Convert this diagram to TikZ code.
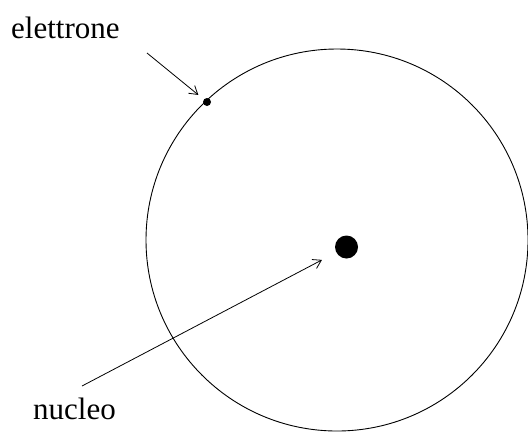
\documentclass[tikz,border=0pt]{standalone}
\usepackage{fontspec}
\setmainfont{Liberation Serif}
\usetikzlibrary{arrows.meta}
\begin{document}
\begin{tikzpicture}[x=1bp,y=-1bp,
  lbl/.style={anchor=base west,inner sep=0pt,font=\fontsize{31bp}{37bp}\selectfont},
  dot/.style={circle,fill=black,inner sep=0pt},
  pointer/.style={line width=0.8bp,-{Straight Barb[length=8bp,width=10bp]}}]
\useasboundingbox (0,0) rectangle (528,432);
\clip (0,0) rectangle (528,432);
\fill[white] (0,0) rectangle (528,432);
\draw[line width=0.9bp] (337,240) circle[radius=191];
\node[dot,minimum size=8bp] (el) at (207,102) {};
\node[dot,minimum size=23bp] (nu) at (346.5,247) {};
\node[lbl] (te) at (11,38) {elettrone};
\node[lbl] (tn) at (33,419) {nucleo};
\coordinate (a1) at (147,53);
\coordinate (a2) at (82,386);
\draw[pointer,shorten >=7bp] (a1) -- (el);
\draw[pointer,shorten >=16bp] (a2) -- (nu);
\end{tikzpicture}
\end{document}
